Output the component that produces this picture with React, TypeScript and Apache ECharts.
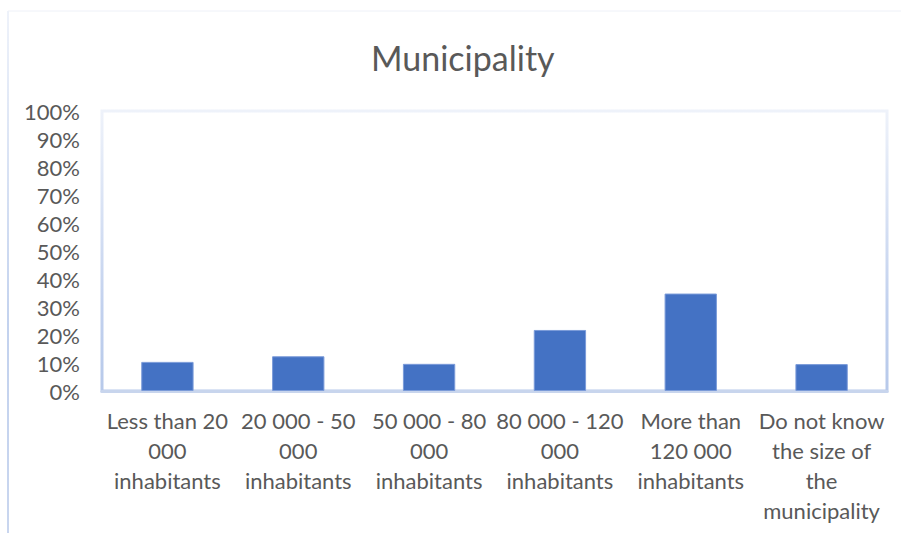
import React, { useEffect, useRef } from "react";
import * as echarts from "echarts";

const title = "Municipality";
const categories = [
  "Less than 20\n000\ninhabitants",
  "20 000 - 50\n000\ninhabitants",
  "50 000 - 80\n000\ninhabitants",
  "80 000 - 120\n000\ninhabitants",
  "More than\n120 000\ninhabitants",
  "Do not know\nthe size of\nthe\nmunicipality",
];
const values = [0.104, 0.124, 0.097, 0.218, 0.348, 0.096];

const FONT = "Lato, 'Open Sans', sans-serif";

export default function App() {
  const ref = useRef<HTMLDivElement>(null);
  useEffect(() => {
    if (!ref.current) return;
    const chart = echarts.init(ref.current, undefined, { renderer: "svg" });
    chart.setOption({
      animation: false,
      backgroundColor: "#ffffff",
      title: {
        text: title,
        left: 366,
        top: 35,
        textStyle: { fontFamily: FONT, fontSize: 34, fontWeight: "normal", color: "#595959" },
      },
      graphic: [
        {
          type: "rect",
          shape: { x: 7, y: 11, width: 2, height: 522 },
          style: {
            fill: new echarts.graphic.LinearGradient(0, 0, 0, 1, [
              { offset: 0, color: "#eef2fa" },
              { offset: 0.6, color: "#c3d2ee" },
              { offset: 1, color: "#c9d6ef" },
            ]),
          },
        },
        { type: "line", shape: { x1: 8, y1: 11, x2: 901, y2: 11 }, style: { stroke: "#eef1f8", lineWidth: 1 } },
      ],
      grid: {
        left: 102,
        right: 14,
        top: 111,
        bottom: 142,
        show: true,
        borderColor: new echarts.graphic.LinearGradient(0, 0, 0, 1, [
          { offset: 0, color: "#eef2fa" },
          { offset: 0.7, color: "#c2d1ee" },
          { offset: 1, color: "#b7c9ea" },
        ]),
        borderWidth: 3,
        backgroundColor: "#ffffff",
      },
      xAxis: {
        type: "category",
        data: categories,
        axisLine: { show: true, lineStyle: { color: "#c8d5ed", width: 3 } },
        axisTick: { show: false },
        axisLabel: {
          interval: 0,
          margin: 14,
          color: "#595959",
          fontFamily: FONT,
          fontSize: 22,
          lineHeight: 30,
        },
      },
      yAxis: {
        type: "value",
        min: 0,
        max: 1,
        interval: 0.1,
        splitLine: { show: false },
        axisLine: { show: false },
        axisTick: { show: false },
        axisLabel: {
          margin: 22,
          color: "#595959",
          fontFamily: FONT,
          fontSize: 22,
          formatter: (v: number) => `${Math.round(v * 100)}%`,
        },
      },
      series: [
        {
          type: "bar",
          data: values,
          barWidth: "40%",
          itemStyle: { color: "#4472C4", borderColor: "#7b9bd9", borderWidth: 1 },
        },
      ],
    });
    return () => chart.dispose();
  }, []);
  return (
    <div
      ref={ref}
      style={{ position: "fixed", left: 0, top: 0, width: 901, height: 533 }}
    />
  );
}
